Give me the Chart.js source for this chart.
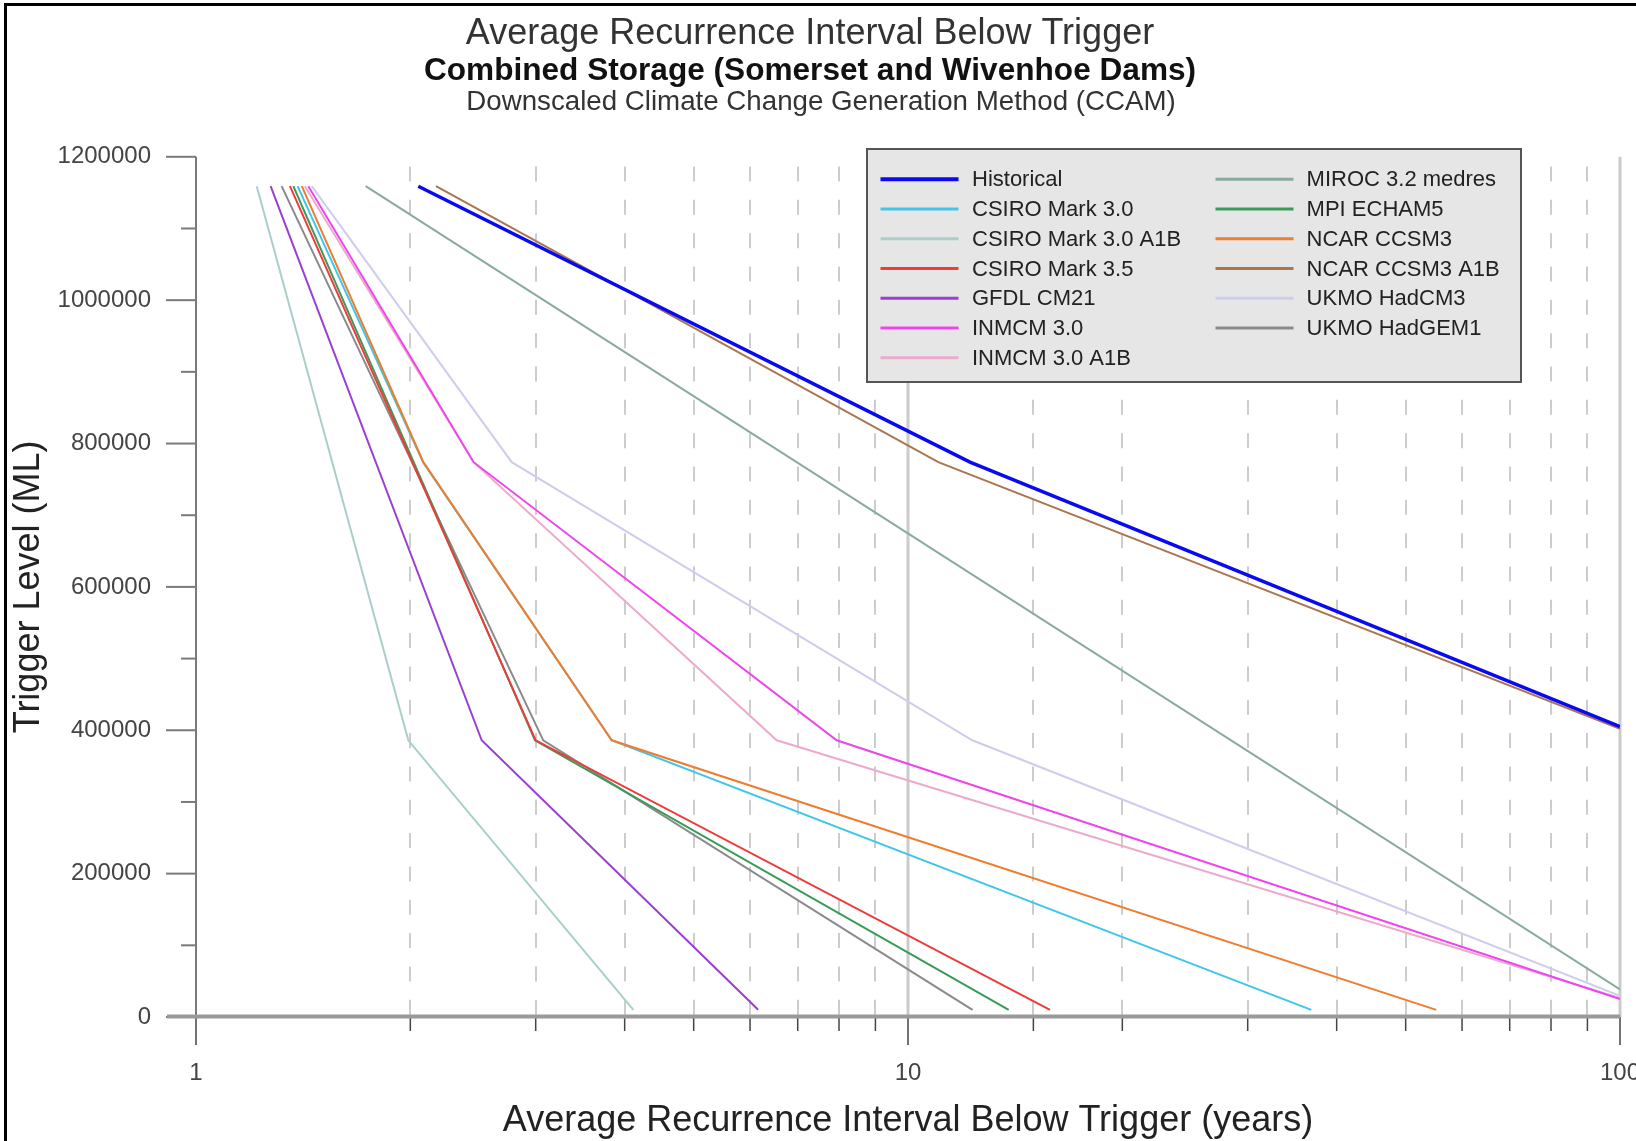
<!DOCTYPE html>
<html>
<head>
<meta charset="utf-8">
<script src="https://cdn.jsdelivr.net/npm/chart.js@4/dist/chart.umd.min.js"></script>
<style>
html,body{margin:0;padding:0;background:#fff;overflow:hidden}
canvas{display:block}
</style>
</head>
<body>
<canvas id="c" width="1636" height="1141"></canvas>
<script>
// ---- Text ----
const titleLine1 = 'Average Recurrence Interval Below Trigger';
const titleLine2 = 'Combined Storage (Somerset and Wivenhoe Dams)';
const titleLine3 = 'Downscaled Climate Change Generation Method (CCAM)';
const xTitle = 'Average Recurrence Interval Below Trigger (years)';
const yTitle = 'Trigger Level (ML)';

// ---- Series names ----
const seriesNames = [
  'Historical', 'CSIRO Mark 3.0', 'CSIRO Mark 3.0 A1B', 'CSIRO Mark 3.5',
  'GFDL CM21', 'INMCM 3.0', 'INMCM 3.0 A1B',
  'MIROC 3.2 medres', 'MPI ECHAM5', 'NCAR CCSM3', 'NCAR CCSM3 A1B',
  'UKMO HadCM3', 'UKMO HadGEM1'
];

// ---- Axis tick values ----
const majorX = [1, 10, 100];
const yMin = 0, yMax = 1200000, yLabelStep = 200000, yMinorStep = 100000;

// ---- Series values (x = recurrence interval in years, y = trigger level ML) ----
const historicalX = [2.052, 12.22, 100];
const historicalY = [1159000, 774000, 405000];

const csiro30X = [1.389, 2.084, 3.836, 36.85];
const csiro30Y = [1159000, 774000, 386000, 10000];

const csiro30a1bX = [1.217, 1.987, 4.114];
const csiro30a1bY = [1159000, 386000, 10000];

const csiro35X = [1.355, 3.0, 15.83];
const csiro35Y = [1159000, 386000, 10000];

const gfdlX = [1.273, 2.519, 6.16];
const gfdlY = [1159000, 386000, 10000];

const inmcmX = [1.438, 2.454, 7.94, 100];
const inmcmY = [1159000, 774000, 386000, 25000];

const inmcmA1bX = [1.422, 2.454, 6.54, 100];
const inmcmA1bY = [1159000, 774000, 386000, 26500];

const mirocX = [1.731, 100];
const mirocY = [1159000, 38600];

const mpiX = [1.370, 2.993, 13.85];
const mpiY = [1159000, 386000, 10000];

const ncarX = [1.408, 2.086, 3.836, 55.2];
const ncarY = [1159000, 774000, 386000, 10000];

const ncarA1bX = [2.173, 11.03, 100];
const ncarA1bY = [1159000, 774000, 402000];

const hadcm3X = [1.454, 2.776, 12.31, 100];
const hadcm3Y = [1159000, 774000, 386000, 29500];

const hadgem1X = [1.319, 3.074, 12.32];
const hadgem1Y = [1159000, 386000, 10000];

// ---- Styles ----
const FONT = "'Liberation Sans', Arial, Helvetica, sans-serif";
const colors = ['#0a0af0', '#3fc6ea', '#a9cfca', '#ee3b3b', '#9a3fcf', '#ee45ee', '#ecaace',
                '#88aa9f', '#3a9a58', '#ee7d30', '#a97650', '#cdcdee', '#8a8a8a'];

const seriesXs = [historicalX, csiro30X, csiro30a1bX, csiro35X, gfdlX, inmcmX, inmcmA1bX,
                  mirocX, mpiX, ncarX, ncarA1bX, hadcm3X, hadgem1X];
const seriesYs = [historicalY, csiro30Y, csiro30a1bY, csiro35Y, gfdlY, inmcmY, inmcmA1bY,
                  mirocY, mpiY, ncarY, ncarA1bY, hadcm3Y, hadgem1Y];

const datasets = seriesNames.map((name, i) => ({
  label: name,
  data: seriesXs[i].map((x, j) => ({x: x, y: seriesYs[i][j]})),
  borderColor: colors[i],
  backgroundColor: colors[i],
  borderWidth: i === 0 ? 3.5 : 2,
  pointRadius: 0,
  pointHoverRadius: 0,
  showLine: true,
  tension: 0,
  order: i === 1 ? 1 : 0
}));

const decor = {
  id: 'decor',
  beforeDatasetsDraw(chart) {
    const {ctx, chartArea: a, scales: {x}} = chart;
    ctx.save();
    ctx.lineWidth = 2;
    ctx.strokeStyle = '#cdcdcd';
    ctx.setLineDash([15, 18.33]);
    x.ticks.forEach(t => {
      if (majorX.includes(t.value)) return;
      const px = Math.round(x.getPixelForValue(t.value));
      ctx.beginPath(); ctx.moveTo(px, a.top + 9.7); ctx.lineTo(px, a.bottom); ctx.stroke();
    });
    ctx.setLineDash([]);
    ctx.lineWidth = 3;
    ctx.strokeStyle = '#cbcbcb';
    majorX.forEach(v => {
      if (v === 1) return;
      const px = x.getPixelForValue(v);
      ctx.beginPath(); ctx.moveTo(px, a.top); ctx.lineTo(px, a.bottom); ctx.stroke();
    });
    ctx.restore();
  },
  afterDatasetsDraw(chart) {
    const {ctx, chartArea: a, scales: {x, y}} = chart;
    ctx.save();
    // y axis line
    ctx.strokeStyle = '#7a7a7a';
    ctx.lineWidth = 2;
    ctx.beginPath(); ctx.moveTo(a.left, a.top); ctx.lineTo(a.left, a.bottom); ctx.stroke();
    // y ticks
    y.ticks.forEach(t => {
      const py = y.getPixelForValue(t.value);
      const len = (t.value % yLabelStep === 0) ? 30 : 15;
      ctx.beginPath(); ctx.moveTo(a.left - len, py); ctx.lineTo(a.left, py); ctx.stroke();
    });
    // x ticks
    ctx.strokeStyle = '#444';
    ctx.lineWidth = 1.5;
    x.ticks.forEach(t => {
      const px = x.getPixelForValue(t.value);
      const len = majorX.includes(t.value) ? 28 : 14;
      ctx.beginPath(); ctx.moveTo(px, a.bottom); ctx.lineTo(px, a.bottom + len); ctx.stroke();
    });
    // x axis line
    ctx.strokeStyle = '#9a9a9a';
    ctx.lineWidth = 4;
    ctx.beginPath(); ctx.moveTo(a.left - 29, a.bottom - 0.5); ctx.lineTo(a.right, a.bottom - 0.5); ctx.stroke();

    // legend
    const lx = 867, ly = 149, lw = 654, lh = 233;
    ctx.fillStyle = '#e6e6e6';
    ctx.fillRect(lx, ly, lw, lh);
    ctx.strokeStyle = '#555';
    ctx.lineWidth = 2;
    ctx.strokeRect(lx, ly, lw, lh);
    ctx.font = '22px ' + FONT;
    ctx.textBaseline = 'middle';
    ctx.textAlign = 'left';
    chart.data.datasets.forEach((d, i) => {
      const col = i < 7 ? 0 : 1;
      const row = col ? i - 7 : i;
      const yy = ly + 30.3 + row * 29.73;
      const x0 = col ? lx + 348.5 : lx + 13.5;
      const x1 = x0 + 78;
      const tx = col ? lx + 439.6 : lx + 105;
      ctx.strokeStyle = d.borderColor;
      ctx.lineWidth = i === 0 ? 4 : 3;
      ctx.beginPath(); ctx.moveTo(x0, yy); ctx.lineTo(x1, yy); ctx.stroke();
      ctx.fillStyle = '#222';
      ctx.fillText(d.label, tx, yy + 1);
    });

    // third title line
    ctx.font = '27.7px ' + FONT;
    ctx.fillStyle = '#333';
    ctx.textAlign = 'center';
    ctx.textBaseline = 'middle';
    ctx.fillText(titleLine3, chart.width / 2 + 3, 102.3);

    // frame
    ctx.fillStyle = '#000';
    ctx.fillRect(4, 3, 3, chart.height - 3);
    ctx.fillRect(4, 3, chart.width - 4, 3);
    ctx.restore();
  }
};

new Chart(document.getElementById('c'), {
  type: 'scatter',
  data: {datasets: datasets},
  plugins: [decor],
  options: {
    responsive: false,
    devicePixelRatio: 1,
    animation: false,
    layout: {padding: {left: 0, right: 16, top: 0, bottom: 0}},
    plugins: {
      legend: {display: false},
      tooltip: {enabled: false},
      title: {
        display: true, text: titleLine1, color: '#333',
        font: {family: FONT, size: 36, weight: 'normal', lineHeight: 1},
        padding: {top: 16.4, bottom: 0}
      },
      subtitle: {
        display: true, text: titleLine2, color: '#111',
        font: {family: FONT, size: 31.6, weight: 'bold', lineHeight: 1},
        padding: {top: 2.8, bottom: 70}
      }
    },
    scales: {
      x: {
        type: 'logarithmic', min: 1, max: 100,
        grid: {display: false, drawTicks: true, tickLength: 28},
        border: {display: false},
        ticks: {
          autoSkip: false, maxRotation: 0, minRotation: 0, padding: 13.5,
          color: '#444', font: {family: FONT, size: 24},
          callback: v => majorX.includes(v) ? String(v) : ''
        },
        title: {display: true, text: xTitle, color: '#222',
                font: {family: FONT, size: 36}, padding: {top: 0, bottom: -2}},
        afterFit: s => { s.height = 124; s.paddingLeft = 0; s.paddingRight = 0; }
      },
      y: {
        min: yMin, max: yMax,
        grid: {display: false, drawTicks: true, tickLength: 30},
        border: {display: false},
        ticks: {
          stepSize: yMinorStep, autoSkip: false, padding: 15,
          color: '#444', font: {family: FONT, size: 24},
          callback: v => (v % yLabelStep === 0) ? String(v) : ''
        },
        title: {display: true, text: yTitle, color: '#222',
                font: {family: FONT, size: 36}, padding: {top: 7, bottom: 0}},
        afterFit: s => { s.width = 196; s.paddingTop = 0; s.paddingBottom = 0; }
      }
    }
  }
});
</script>
</body>
</html>
